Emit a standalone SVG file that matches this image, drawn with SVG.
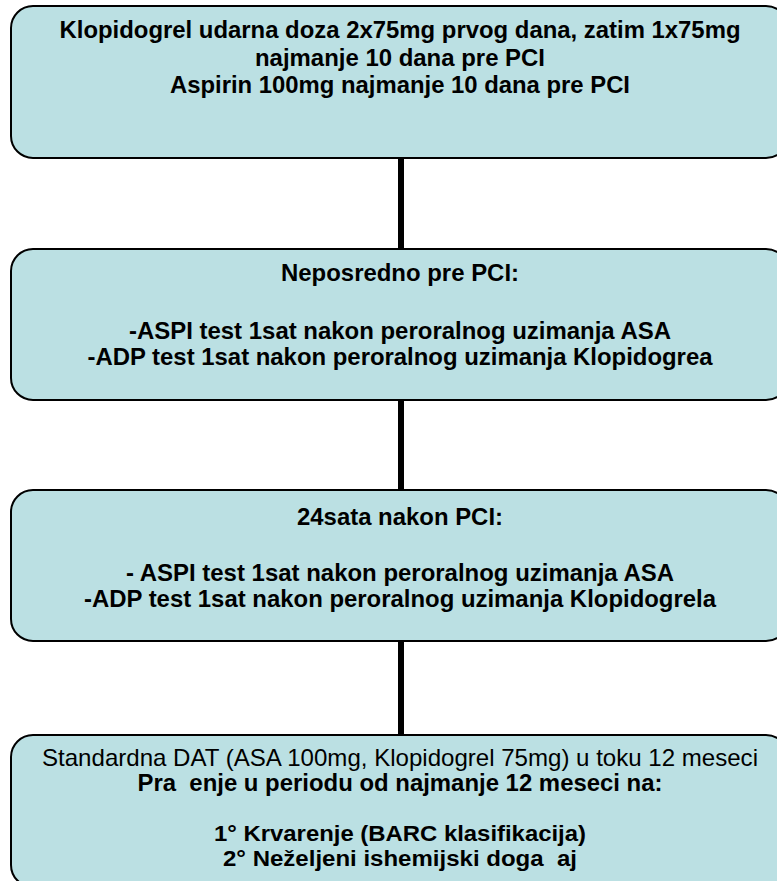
<svg xmlns="http://www.w3.org/2000/svg" width="777" height="881" viewBox="0 0 777 881">
<style>
.box{fill:#bbe0e3;stroke:#000;stroke-width:2}
.t{font-family:"Liberation Sans",Arial,sans-serif;font-size:24px;fill:#000;text-anchor:middle}
.s{font-size:22px}
.b{font-weight:bold}
.conn{stroke:#000;stroke-width:6;fill:none}
</style>
<rect width="777" height="881" fill="#fff"/>
<g id="connectors">
<line class="conn" x1="401" y1="158" x2="401" y2="249"/>
<line class="conn" x1="401" y1="400" x2="401" y2="490"/>
<line class="conn" x1="401" y1="641" x2="401" y2="735"/>
</g>
<g id="node1">
<rect class="box" x="11" y="6" width="777" height="152" rx="22" ry="22"/>
<text class="t b" x="400" y="38" textLength="681" lengthAdjust="spacingAndGlyphs">Klopidogrel udarna doza 2x75mg prvog dana, zatim 1x75mg</text>
<text class="t b" x="400" y="65.5" textLength="290" lengthAdjust="spacingAndGlyphs">najmanje 10 dana pre PCI</text>
<text class="t b" x="400" y="93" textLength="460" lengthAdjust="spacingAndGlyphs">Aspirin 100mg najmanje 10 dana pre PCI</text>
</g>
<g id="node2">
<rect class="box" x="11" y="249" width="777" height="151" rx="22" ry="22"/>
<text class="t b" x="400" y="281" textLength="238" lengthAdjust="spacingAndGlyphs">Neposredno pre PCI:</text>
<text class="t b" x="400" y="339" textLength="542" lengthAdjust="spacingAndGlyphs">-ASPI test 1sat nakon peroralnog uzimanja ASA</text>
<text class="t b" x="400" y="365" textLength="625" lengthAdjust="spacingAndGlyphs">-ADP test 1sat nakon peroralnog uzimanja Klopidogrea</text>
</g>
<g id="node3">
<rect class="box" x="11" y="490" width="777" height="151" rx="22" ry="22"/>
<text class="t b" x="400" y="525" textLength="206" lengthAdjust="spacingAndGlyphs">24sata nakon PCI:</text>
<text class="t b" x="400" y="581" textLength="548" lengthAdjust="spacingAndGlyphs">- ASPI test 1sat nakon peroralnog uzimanja ASA</text>
<text class="t b" x="400" y="607" textLength="632" lengthAdjust="spacingAndGlyphs">-ADP test 1sat nakon peroralnog uzimanja Klopidogrela</text>
</g>
<g id="node4">
<rect class="box" x="11" y="735" width="777" height="152" rx="22" ry="22"/>
<text class="t" x="400" y="766" textLength="716" lengthAdjust="spacingAndGlyphs">Standardna DAT (ASA 100mg, Klopidogrel 75mg) u toku 12 meseci</text>
<text class="t b" x="400" y="791" textLength="525" lengthAdjust="spacingAndGlyphs" xml:space="preserve">Pra  enje u periodu od najmanje 12 meseci na:</text>
<text class="t b s" x="400" y="841" textLength="372" lengthAdjust="spacingAndGlyphs">1° Krvarenje (BARC klasifikacija)</text>
<text class="t b s" x="400" y="866" textLength="354" lengthAdjust="spacingAndGlyphs" xml:space="preserve">2° Neželjeni ishemijski doga  aj</text>
</g>
</svg>
